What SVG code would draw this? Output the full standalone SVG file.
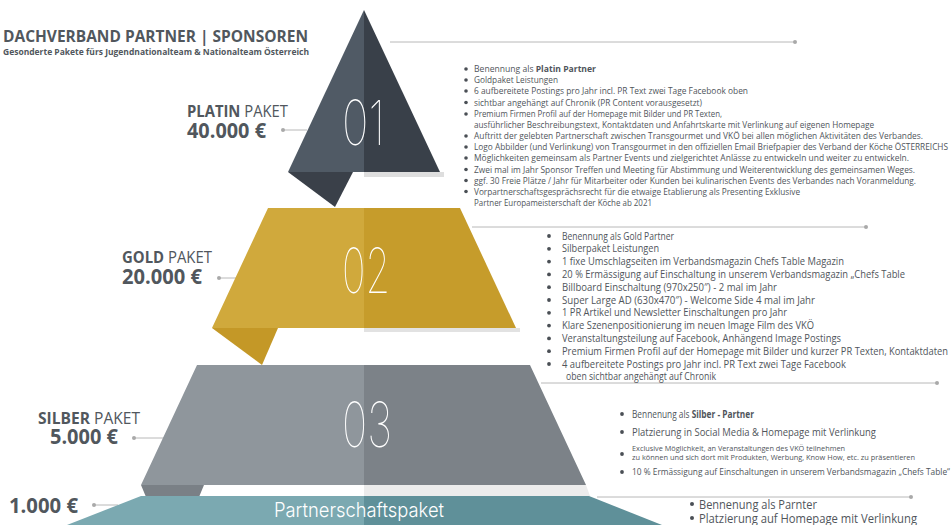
<svg xmlns="http://www.w3.org/2000/svg" width="952" height="525" viewBox="0 0 952 525">
<style>
.t{font-family:"Open Sans","DejaVu Sans",sans-serif;fill:#50555b}
.p{font-size:8.8px}
.g{font-size:10px}
.b{font-weight:bold}
.lbl{font-family:"Open Sans","DejaVu Sans",sans-serif;fill:#51575d}
.num{font-family:"Inter","Roboto","DejaVu Sans",sans-serif;font-weight:100;fill:#ffffff;font-size:62px}
.conn{stroke:#b8b8b8;stroke-width:1;fill:none}
.dot{fill:#a9a9a9}
.bul{fill:#4a4f55}
</style>
<rect width="952" height="525" fill="#ffffff"/>
<g id="title">
<text class="lbl b" x="3" y="42" font-size="15.5" textLength="305" lengthAdjust="spacingAndGlyphs">DACHVERBAND PARTNER | SPONSOREN</text>
<text class="lbl b" x="3" y="55" font-size="9.5" textLength="306" lengthAdjust="spacingAndGlyphs">Gesonderte Pakete fürs Jugendnationalteam &amp; Nationalteam Österreich</text>
</g>
<g id="connectors">
<line class="conn" x1="390" y1="42" x2="795" y2="42"/><circle class="dot" cx="795" cy="42" r="2"/>
<line class="conn" x1="472" y1="227" x2="866" y2="227"/><circle class="dot" cx="866" cy="227" r="2"/>
<line class="conn" x1="541" y1="383" x2="937" y2="383"/><circle class="dot" cx="937" cy="383" r="2"/>
<line class="conn" x1="597" y1="497" x2="911" y2="497"/><circle class="dot" cx="911" cy="497" r="2"/>
<line class="conn" x1="283" y1="130" x2="307" y2="130"/><circle class="dot" cx="283" cy="130" r="2"/>
<line class="conn" x1="219" y1="278" x2="236" y2="278"/><circle class="dot" cx="219" cy="278" r="2"/>
<line class="conn" x1="134" y1="438" x2="164" y2="438"/><circle class="dot" cx="134" cy="438" r="2"/>
<line class="conn" x1="94" y1="505" x2="118" y2="505"/><circle class="dot" cx="94" cy="505" r="2"/>
</g>
<g id="platin">
<rect x="364" y="172" width="80" height="5" fill="#dedede"/>
<polygon points="364,10 288,172 364,172" fill="#505a65"/>
<polygon points="364,10 440,172 364,172" fill="#394049"/>
<polygon points="288,172 353,172 335,207" fill="#3a4049"/>
<text class="num" x="342" y="145" textLength="43" lengthAdjust="spacingAndGlyphs">01</text>
<text class="lbl" x="187" y="117" font-size="16.5" textLength="101" lengthAdjust="spacingAndGlyphs"><tspan class="b">PLATIN</tspan> PAKET</text>
<text class="lbl b" x="187" y="138" font-size="21" textLength="79" lengthAdjust="spacingAndGlyphs">40.000 €</text>
</g>
<g id="platin-list" class="t p">
<circle class="bul" cx="466" cy="69" r="1.8"/><circle class="bul" cx="466" cy="80" r="1.8"/><circle class="bul" cx="466" cy="91" r="1.8"/><circle class="bul" cx="466" cy="102.5" r="1.8"/><circle class="bul" cx="466" cy="114" r="1.8"/><circle class="bul" cx="466" cy="136" r="1.8"/><circle class="bul" cx="466" cy="147" r="1.8"/><circle class="bul" cx="466" cy="158" r="1.8"/><circle class="bul" cx="466" cy="169.5" r="1.8"/><circle class="bul" cx="466" cy="180.5" r="1.8"/><circle class="bul" cx="466" cy="191.5" r="1.8"/>
<text x="474" y="72" textLength="122" lengthAdjust="spacingAndGlyphs">Benennung als <tspan class="b">Platin Partner</tspan></text>
<text x="474" y="83" textLength="84" lengthAdjust="spacingAndGlyphs">Goldpaket Leistungen</text>
<text x="474" y="94" textLength="274" lengthAdjust="spacingAndGlyphs">6 aufbereitete Postings pro Jahr incl. PR Text zwei Tage Facebook oben</text>
<text x="474" y="105.5" textLength="228" lengthAdjust="spacingAndGlyphs">sichtbar angehängt auf Chronik (PR Content vorausgesetzt)</text>
<text x="474" y="117" textLength="248" lengthAdjust="spacingAndGlyphs">Premium Firmen Profil auf der Homepage mit Bilder und PR Texten,</text>
<text x="474" y="127.5" textLength="400" lengthAdjust="spacingAndGlyphs">ausführlicher Beschreibungstext, Kontaktdaten und Anfahrtskarte mit Verlinkung auf eigenen Homepage</text>
<text x="474" y="139" textLength="449" lengthAdjust="spacingAndGlyphs">Auftritt der gelebten Partnerschaft zwischen Transgourmet und VKÖ bei allen möglichen Aktivitäten des Verbandes.</text>
<text x="474" y="150" textLength="474" lengthAdjust="spacingAndGlyphs">Logo Abbilder (und Verlinkung) von Transgourmet in den offiziellen Email Briefpapier des Verband der Köche ÖSTERREICHS</text>
<text x="474" y="161" textLength="435" lengthAdjust="spacingAndGlyphs">Möglichkeiten gemeinsam als Partner Events und zielgerichtet Anlässe zu entwickeln und weiter zu entwickeln.</text>
<text x="474" y="172.5" textLength="441" lengthAdjust="spacingAndGlyphs">Zwei mal im Jahr Sponsor Treffen und Meeting für Abstimmung und Weiterentwicklung des gemeinsamen Weges.</text>
<text x="474" y="183.5" textLength="442" lengthAdjust="spacingAndGlyphs">ggf. 30 Freie Plätze / Jahr für Mitarbeiter oder Kunden bei kulinarischen Events des Verbandes nach Voranmeldung.</text>
<text x="474" y="194.5" textLength="326" lengthAdjust="spacingAndGlyphs">Vorpartnerschaftsgesprächsrecht für die etwaige Etablierung als Presenting Exklusive</text>
<text x="474" y="205.5" textLength="178" lengthAdjust="spacingAndGlyphs">Partner Europameisterschaft der Köche ab 2021</text>
</g>
<g id="gold">
<rect x="364" y="328" width="156" height="4" fill="#e2e2e2"/>
<polygon points="268,208 364,208 364,328 212,328" fill="#d0a93c"/>
<polygon points="364,208 460,208 516,328 364,328" fill="#c69c2b"/>
<polygon points="212,328 278,328 262,365" fill="#c49827"/>
<text class="num" x="342" y="293" textLength="48" lengthAdjust="spacingAndGlyphs">02</text>
<text class="lbl" x="122" y="263" font-size="16.5" textLength="90" lengthAdjust="spacingAndGlyphs"><tspan class="b">GOLD</tspan> PAKET</text>
<text class="lbl b" x="122" y="284" font-size="21" textLength="80" lengthAdjust="spacingAndGlyphs">20.000 €</text>
</g>
<g id="gold-list" class="t g">
<circle class="bul" cx="549" cy="236" r="1.9"/><circle class="bul" cx="549" cy="248.8" r="1.9"/><circle class="bul" cx="549" cy="261.6" r="1.9"/><circle class="bul" cx="549" cy="274.4" r="1.9"/><circle class="bul" cx="549" cy="287.2" r="1.9"/><circle class="bul" cx="549" cy="300" r="1.9"/><circle class="bul" cx="549" cy="312.8" r="1.9"/><circle class="bul" cx="549" cy="325.6" r="1.9"/><circle class="bul" cx="549" cy="338.4" r="1.9"/><circle class="bul" cx="549" cy="351.2" r="1.9"/><circle class="bul" cx="549" cy="364" r="1.9"/>
<text x="562" y="239.5" textLength="112" lengthAdjust="spacingAndGlyphs">Benennung als Gold Partner</text>
<text x="562" y="252.3" textLength="97" lengthAdjust="spacingAndGlyphs">Silberpaket Leistungen</text>
<text x="562" y="265.1" textLength="282" lengthAdjust="spacingAndGlyphs">1 fixe Umschlagseiten im Verbandsmagazin Chefs Table Magazin</text>
<text x="562" y="277.9" textLength="343" lengthAdjust="spacingAndGlyphs">20 % Ermässigung auf Einschaltung in unserem Verbandsmagazin „Chefs Table</text>
<text x="562" y="290.7" textLength="215" lengthAdjust="spacingAndGlyphs">Billboard Einschaltung (970x250″) - 2 mal im Jahr</text>
<text x="562" y="303.5" textLength="253" lengthAdjust="spacingAndGlyphs">Super Large AD (630x470″) - Welcome Side 4 mal im Jahr</text>
<text x="562" y="316.3" textLength="225" lengthAdjust="spacingAndGlyphs">1 PR Artikel und Newsletter Einschaltungen pro Jahr</text>
<text x="562" y="329.1" textLength="252" lengthAdjust="spacingAndGlyphs">Klare Szenenpositionierung im neuen Image Film des VKÖ</text>
<text x="562" y="341.9" textLength="279" lengthAdjust="spacingAndGlyphs">Veranstaltungsteilung auf Facebook, Anhängend Image Postings</text>
<text x="562" y="354.7" textLength="386" lengthAdjust="spacingAndGlyphs">Premium Firmen Profil auf der Homepage mit Bilder und kurzer PR Texten, Kontaktdaten</text>
<text x="562" y="367.5" textLength="284" lengthAdjust="spacingAndGlyphs">4 aufbereitete Postings pro Jahr incl. PR Text zwei Tage Facebook</text>
<text x="566" y="380.3" textLength="150" lengthAdjust="spacingAndGlyphs">oben sichtbar angehängt auf Chronik</text>
</g>
<g id="silber">
<polygon points="364,485 586,485 590,496 364,496" fill="#ececec"/>
<polygon points="197,365 364,365 364,485 141,485" fill="#8f969c"/>
<polygon points="364,365 530,365 586,485 364,485" fill="#7c8288"/>
<polygon points="141,485 204,485 199,497 146,497" fill="#7a8086"/>
<text class="num" x="342" y="447" textLength="50" lengthAdjust="spacingAndGlyphs">03</text>
<text class="lbl" x="38" y="424" font-size="16" textLength="102" lengthAdjust="spacingAndGlyphs"><tspan class="b">SILBER</tspan> PAKET</text>
<text class="lbl b" x="50" y="444" font-size="21" textLength="68" lengthAdjust="spacingAndGlyphs">5.000 €</text>
</g>
<g id="silber-list" class="t">
<circle class="bul" cx="622" cy="414" r="1.9"/><circle class="bul" cx="622" cy="432" r="1.9"/><circle class="bul" cx="622" cy="454" r="1.9"/><circle class="bul" cx="622" cy="472" r="1.9"/>
<text x="632" y="417.5" font-size="10.5" textLength="122" lengthAdjust="spacingAndGlyphs">Bennenung als <tspan class="b">Silber - Partner</tspan></text>
<text x="632" y="435.5" font-size="10.5" textLength="244" lengthAdjust="spacingAndGlyphs">Platzierung in Social Media &amp; Homepage mit Verlinkung</text>
<text x="632" y="451" font-size="7.2" textLength="213" lengthAdjust="spacingAndGlyphs">Exclusive Möglichkeit, an Veranstaltungen des VKÖ teilnehmen</text>
<text x="632" y="460" font-size="7.2" textLength="283" lengthAdjust="spacingAndGlyphs">zu können und sich dort mit Produkten, Werbung,  Know How, etc. zu präsentieren</text>
<text x="632" y="475" font-size="8.5" textLength="318" lengthAdjust="spacingAndGlyphs">10 % Ermässigung auf Einschaltungen in unserem Verbandsmagazin „Chefs Table“</text>
</g>
<g id="partner">
<polygon points="141,496 364,496 364,525 67,525" fill="#7ba9b1"/>
<polygon points="364,496 589,496 662,525 364,525" fill="#5f9099"/>
<text x="274" y="517" font-family="Inter,Roboto,'Open Sans',sans-serif" font-weight="300" font-size="20" fill="#ffffff" textLength="170" lengthAdjust="spacingAndGlyphs">Partnerschaftspaket</text>
<text class="lbl b" x="9" y="513" font-size="22" textLength="69" lengthAdjust="spacingAndGlyphs">1.000 €</text>
</g>
<g id="partner-list" class="t">
<circle class="bul" cx="692" cy="504" r="2"/><circle class="bul" cx="692" cy="518" r="2"/>
<text x="699" y="509" font-size="12" textLength="118" lengthAdjust="spacingAndGlyphs">Bennenung als Parnter</text>
<text x="699" y="523" font-size="12" textLength="218" lengthAdjust="spacingAndGlyphs">Platzierung auf Homepage mit Verlinkung</text>
</g>
</svg>
